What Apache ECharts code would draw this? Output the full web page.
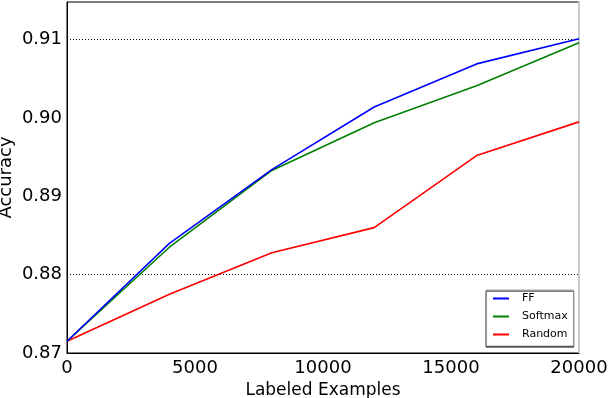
<!DOCTYPE html>
<html><head><meta charset="utf-8">
<script src="https://cdn.jsdelivr.net/npm/echarts@6/dist/echarts.min.js"></script>
<style>html,body{margin:0;padding:0;background:#fff}#c{width:608px;height:398px}</style>
</head><body><div id="c"></div>
<script>
var labeled = [0, 4000, 8000, 12000, 16000, 20000];
var ff      = [0.8715, 0.8840, 0.8934, 0.9014, 0.9069, 0.9101];
var softmax = [0.8715, 0.8835, 0.8933, 0.8994, 0.9041, 0.9096];
var random  = [0.8715, 0.8775, 0.8828, 0.8860, 0.8952, 0.8995];
var gridValues = [0.88, 0.91];

function pairs(xs, ys){ return xs.map(function(x,i){ return [x, ys[i]]; }); }
var font = 'DejaVu Sans';
var chart = echarts.init(document.getElementById('c'), null, {renderer:'canvas'});
chart.setOption({
  animation:false,
  grid:{left:67, right:29, top:2, bottom:45, containLabel:false, outerBoundsMode:'none',
        show:true, borderColor:'#000', borderWidth:1, backgroundColor:'transparent'},
  legend:{
    orient:'vertical', left:486, top:290,
    data:['FF','Softmax','Random'],
    icon:'rect', itemWidth:16, itemHeight:2, itemGap:7,
    padding:[3,6,6,7],
    backgroundColor:'#fff', borderColor:'#aaa', borderWidth:1,
    shadowColor:'#000', shadowOffsetY:1, shadowOffsetX:0, shadowBlur:0,
    textStyle:{fontFamily:font, fontSize:11, color:'#000', padding:[0,0,0,8]}
  },
  xAxis:{
    type:'value', min:0, max:20000, interval:5000,
    name:'Labeled Examples', nameLocation:'middle', nameGap:29, nameMoveOverlap:false,
    nameTextStyle:{fontFamily:font, fontSize:17, color:'#000'},
    axisLine:{show:true, lineStyle:{color:'#000', width:1}},
    axisTick:{show:false},
    axisLabel:{fontFamily:font, fontSize:18, color:'#000', margin:6,
      formatter:function(v){ return String(v); }},
    splitLine:{show:false}
  },
  yAxis:[{
    type:'value', min:0.87, max:0.9148, interval:0.01,
    name:'Accuracy', nameLocation:'middle', nameGap:52, nameMoveOverlap:false,
    nameTextStyle:{fontFamily:font, fontSize:18, color:'#000'},
    axisLine:{show:true, lineStyle:{color:'#000', width:1}},
    axisTick:{show:false},
    axisLabel:{fontFamily:font, fontSize:18, color:'#000', margin:5, showMaxLabel:false,
      formatter:function(v){ return v.toFixed(2); }},
    splitLine:{show:false}
  },{
    type:'value', min:0.87, max:0.9148, position:'right',
    axisLine:{show:true, onZero:false, lineStyle:{color:'#ccc', width:2}},
    axisTick:{show:false}, axisLabel:{show:false}, splitLine:{show:false}
  }],
  series:[
    {name:'FF', type:'line', data:pairs(labeled, ff), showSymbol:false, symbol:'none',
     lineStyle:{color:'#0000ff', width:1.6}, itemStyle:{color:'#0000ff'}, z:5,
     markLine:{silent:true, symbol:'none', label:{show:false},
       lineStyle:{color:'#000', type:[1,2], width:1}, z:1,
       data:gridValues.map(function(v){ return {yAxis:v}; })}},
    {name:'Softmax', type:'line', data:pairs(labeled, softmax), showSymbol:false, symbol:'none',
     lineStyle:{color:'#008000', width:1.6}, itemStyle:{color:'#008000'}, z:4},
    {name:'Random', type:'line', data:pairs(labeled, random), showSymbol:false, symbol:'none',
     lineStyle:{color:'#ff0000', width:1.6}, itemStyle:{color:'#ff0000'}, z:3}
  ]
});
</script></body></html>
